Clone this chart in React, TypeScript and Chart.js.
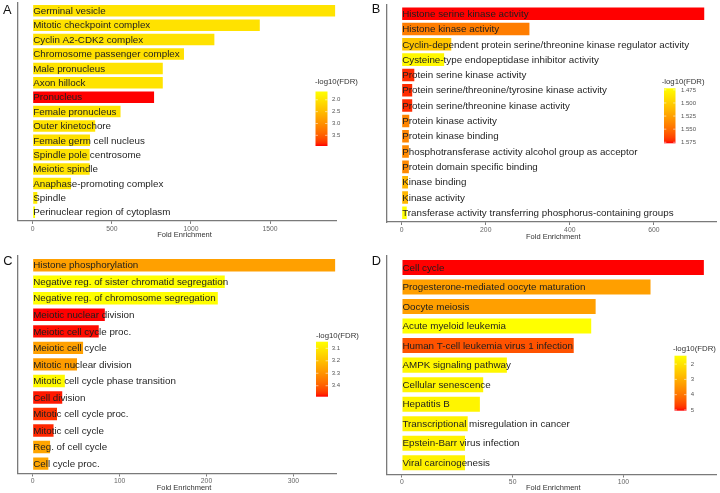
import React, { useEffect, useRef } from "react";
import { Chart, registerables } from "chart.js";

Chart.register(...registerables);

const FONT = '"Liberation Sans", Arial, Helvetica, sans-serif';

// ---------------- Panel A ----------------
const labelsA = [
  "Germinal vesicle",
  "Mitotic checkpoint complex",
  "Cyclin A2-CDK2 complex",
  "Chromosome passenger complex",
  "Male pronucleus",
  "Axon hillock",
  "Pronucleus",
  "Female pronucleus",
  "Outer kinetochore",
  "Female germ cell nucleus",
  "Spindle pole centrosome",
  "Meiotic spindle",
  "Anaphase-promoting complex",
  "Spindle",
  "Perinuclear region of cytoplasm",
];
const foldA = [1911, 1435, 1148, 956, 822, 822, 767, 555, 395, 362, 360, 360, 242, 29, 15];
const fdrA = [2.0, 2.02, 2.02, 2.04, 2.0, 2.0, 3.95, 2.0, 2.0, 2.04, 2.0, 2.0, 1.96, 1.9, 1.65];
const xTicksA = [0, 500, 1000, 1500];
const legendTicksA = [2.0, 2.5, 3.0, 3.5];
const legendTickLabelsA = ["2.0", "2.5", "3.0", "3.5"];

// ---------------- Panel B ----------------
const labelsB = [
  "Histone serine kinase activity",
  "Histone kinase activity",
  "Cyclin-dependent protein serine/threonine kinase regulator activity",
  "Cysteine-type endopeptidase inhibitor activity",
  "Protein serine kinase activity",
  "Protein serine/threonine/tyrosine kinase activity",
  "Protein serine/threonine kinase activity",
  "Protein kinase activity",
  "Protein kinase binding",
  "Phosphotransferase activity alcohol group as acceptor",
  "Protein domain specific binding",
  "Kinase binding",
  "Kinase activity",
  "Transferase activity transferring phosphorus-containing groups",
];
const foldB = [720, 304, 118, 101, 30, 25, 25, 18, 17, 17, 17, 15, 15, 12];
const fdrB = [1.577, 1.543, 1.505, 1.476, 1.572, 1.572, 1.572, 1.539, 1.539, 1.537, 1.537, 1.513, 1.513, 1.472];
const xTicksB = [0, 200, 400, 600];
const legendTicksB = [1.475, 1.5, 1.525, 1.55, 1.575];
const legendTickLabelsB = ["1.475", "1.500", "1.525", "1.550", "1.575"];

// ---------------- Panel C ----------------
const labelsC = [
  "Histone phosphorylation",
  "Negative reg. of sister chromatid segregation",
  "Negative reg. of chromosome segregation",
  "Meiotic nuclear division",
  "Meiotic cell cycle proc.",
  "Meiotic cell cycle",
  "Mitotic nuclear division",
  "Mitotic cell cycle phase transition",
  "Cell division",
  "Mitotic cell cycle proc.",
  "Mitotic cell cycle",
  "Reg. of cell cycle",
  "Cell cycle proc.",
];
const foldC = [348, 221, 213, 83, 76, 58, 51, 37, 34, 28, 24, 20, 18];
const fdrC = [3.27, 3.047, 3.05, 3.488, 3.485, 3.27, 3.28, 3.06, 3.48, 3.46, 3.47, 3.26, 3.26];
const xTicksC = [0, 100, 200, 300];
const legendTicksC = [3.1, 3.2, 3.3, 3.4];
const legendTickLabelsC = ["3.1", "3.2", "3.3", "3.4"];

// ---------------- Panel D ----------------
const labelsD = [
  "Cell cycle",
  "Progesterone-mediated oocyte maturation",
  "Oocyte meiosis",
  "Acute myeloid leukemia",
  "Human T-cell leukemia virus 1 infection",
  "AMPK signaling pathway",
  "Cellular senescence",
  "Hepatitis B",
  "Transcriptional misregulation in cancer",
  "Epstein-Barr virus infection",
  "Viral carcinogenesis",
];
const foldD = [136.4, 112.3, 87.5, 85.5, 77.6, 47.4, 36.7, 35.2, 29.7, 28.5, 28.5];
const fdrD = [5.05, 3.3, 3.3, 1.45, 4.5, 1.6, 1.65, 1.65, 1.7, 1.7, 1.7];
const xTicksD = [0, 50, 100];
const legendTicksD = [2, 3, 4, 5];
const legendTickLabelsD = ["2", "3", "4", "5"];

// ---------------- colour scale (yellow -> red, Lab interpolation) ----------------
function toLin(c: number) {
  c /= 255;
  return c <= 0.04045 ? c / 12.92 : Math.pow((c + 0.055) / 1.055, 2.4);
}
function fromLin(c: number) {
  const v = c <= 0.0031308 ? 12.92 * c : 1.055 * Math.pow(c, 1 / 2.4) - 0.055;
  return Math.round(Math.max(0, Math.min(1, v)) * 255);
}
const XN = 0.95047, YN = 1.0, ZN = 1.08883;
function rgbToLab(rgb: number[]) {
  const r = toLin(rgb[0]), g = toLin(rgb[1]), b = toLin(rgb[2]);
  const X = 0.4124 * r + 0.3576 * g + 0.1805 * b;
  const Y = 0.2126 * r + 0.7152 * g + 0.0722 * b;
  const Z = 0.0193 * r + 0.1192 * g + 0.9505 * b;
  const f = (t: number) => (t > 0.008856 ? Math.cbrt(t) : 7.787 * t + 16 / 116);
  const fx = f(X / XN), fy = f(Y / YN), fz = f(Z / ZN);
  return [116 * fy - 16, 500 * (fx - fy), 200 * (fy - fz)];
}
function labToRgb(lab: number[]) {
  const fy = (lab[0] + 16) / 116;
  const fx = fy + lab[1] / 500;
  const fz = fy - lab[2] / 200;
  const fi = (t: number) => (t * t * t > 0.008856 ? t * t * t : (t - 16 / 116) / 7.787);
  const X = XN * fi(fx), Y = YN * fi(fy), Z = ZN * fi(fz);
  const r = 3.2406 * X - 1.5372 * Y - 0.4986 * Z;
  const g = -0.9689 * X + 1.8758 * Y + 0.0415 * Z;
  const b = 0.0557 * X - 0.204 * Y + 1.057 * Z;
  return [fromLin(r), fromLin(g), fromLin(b)];
}
const LAB_LOW = rgbToLab([255, 255, 0]);
const LAB_HIGH = rgbToLab([255, 0, 0]);
function scaleColor(t: number) {
  const u = Math.max(0, Math.min(1, t));
  const lab = [0, 1, 2].map((k) => LAB_LOW[k] + (LAB_HIGH[k] - LAB_LOW[k]) * u);
  const c = labToRgb(lab);
  return `rgb(${c[0]},${c[1]},${c[2]})`;
}

// ---------------- panel layout ----------------
type PanelDef = {
  letter: string;
  labels: string[];
  values: number[];
  fdr: number[];
  xTicks: number[];
  legTicks: number[];
  legTickLabels: string[];
  left: number; top: number; w: number; h: number;
  cl: number; cr: number; ct: number; cb: number;
  xmin: number; xmax: number;
  barPct: number;
  titleX: number; titleY: number;
  legX: number; legTitleY: number; barX: number; barY: number; barW: number; barH: number; legLabelX: number;
  letterX: number; letterY: number;
};

const panels: PanelDef[] = [
  {
    letter: "A", labels: labelsA, values: foldA, fdr: fdrA, xTicks: xTicksA,
    legTicks: legendTicksA, legTickLabels: legendTickLabelsA,
    left: 0, top: 0, w: 360, h: 250,
    cl: 17.5, cr: 336.7, ct: 2.2, cb: 220.9, xmin: -96, xmax: 1921, barPct: 0.8,
    titleX: 184.5, titleY: 235.3,
    legX: 315, legTitleY: 82.3, barX: 315.5, barY: 91.5, barW: 12, barH: 54.5, legLabelX: 332,
    letterX: 3, letterY: 13.5,
  },
  {
    letter: "B", labels: labelsB, values: foldB, fdr: fdrB, xTicks: xTicksB,
    legTicks: legendTicksB, legTickLabels: legendTickLabelsB,
    left: 360, top: 0, w: 360, h: 250,
    cl: 26.7, cr: 356, ct: 4.5, cb: 222, xmin: -35.7, xmax: 748, barPct: 0.82,
    titleX: 193.3, titleY: 237.3,
    legX: 301.7, legTitleY: 81.7, barX: 304, barY: 88.3, barW: 11.5, barH: 55, legLabelX: 321,
    letterX: 11.7, letterY: 12.9,
  },
  {
    letter: "C", labels: labelsC, values: foldC, fdr: fdrC, xTicks: xTicksC,
    legTicks: legendTicksC, legTickLabels: legendTickLabelsC,
    left: 0, top: 250, w: 360, h: 243,
    cl: 17.3, cr: 336.7, ct: 5.3, cb: 223.5, xmin: -17.7, xmax: 349.8, barPct: 0.75,
    titleX: 184, titleY: 238,
    legX: 316, legTitleY: 86, barX: 316, barY: 91.7, barW: 12, barH: 55, legLabelX: 331.7,
    letterX: 3.3, letterY: 15,
  },
  {
    letter: "D", labels: labelsD, values: foldD, fdr: fdrD, xTicks: xTicksD,
    legTicks: legendTicksD, legTickLabels: legendTickLabelsD,
    left: 360, top: 250, w: 360, h: 243,
    cl: 26.7, cr: 356.7, ct: 5.75, cb: 224.5, xmin: -6.9, xmax: 142.2, barPct: 0.77,
    titleX: 193.3, titleY: 238,
    legX: 313, legTitleY: 99.3, barX: 314.5, barY: 105.7, barW: 12, barH: 55, legLabelX: 330.7,
    letterX: 11.7, letterY: 15,
  },
];

function makeDecor(p: PanelDef, lo: number, hi: number) {
  return {
    id: "decor" + p.letter,
    afterDatasetsDraw(chart: any) {
      const ctx = chart.ctx as CanvasRenderingContext2D;
      const meta = chart.getDatasetMeta(0);
      const x0 = chart.scales.x.getPixelForValue(0);
      ctx.save();
      ctx.font = `9.8px ${FONT}`;
      ctx.fillStyle = "#1e1e1e";
      ctx.textAlign = "left";
      ctx.textBaseline = "middle";
      meta.data.forEach((el: any, i: number) => {
        ctx.fillText(p.labels[i], x0 + 0.5, el.y + 0.5);
      });
      ctx.restore();
    },
    afterDraw(chart: any) {
      const ctx = chart.ctx as CanvasRenderingContext2D;
      ctx.save();
      // x title
      ctx.font = `7.5px ${FONT}`;
      ctx.fillStyle = "#333";
      ctx.textAlign = "center";
      ctx.textBaseline = "middle";
      ctx.fillText("Fold Enrichment", p.titleX, p.titleY);
      // legend title
      ctx.font = `7.8px ${FONT}`;
      ctx.textAlign = "left";
      ctx.fillText("-log10(FDR)", p.legX, p.legTitleY);
      // colour bar
      const grad = ctx.createLinearGradient(0, p.barY, 0, p.barY + p.barH);
      for (let k = 0; k <= 20; k++) grad.addColorStop(k / 20, scaleColor(k / 20));
      ctx.fillStyle = grad;
      ctx.fillRect(p.barX, p.barY, p.barW, p.barH);
      // legend ticks
      ctx.font = `6px ${FONT}`;
      ctx.fillStyle = "#555";
      ctx.strokeStyle = "rgba(255,255,255,0.9)";
      ctx.lineWidth = 0.6;
      p.legTicks.forEach((v, i) => {
        const y = p.barY + ((v - lo) / (hi - lo)) * p.barH;
        ctx.beginPath();
        ctx.moveTo(p.barX, y);
        ctx.lineTo(p.barX + p.barW * 0.2, y);
        ctx.moveTo(p.barX + p.barW * 0.8, y);
        ctx.lineTo(p.barX + p.barW, y);
        ctx.stroke();
        ctx.fillText(p.legTickLabels[i], p.legLabelX, y);
      });
      // panel letter
      ctx.font = `12.8px ${FONT}`;
      ctx.fillStyle = "#111";
      ctx.textBaseline = "alphabetic";
      ctx.fillText(p.letter, p.letterX, p.letterY);
      ctx.restore();
    },
  };
}

function Panel({ p }: { p: PanelDef }) {
  const ref = useRef<HTMLCanvasElement>(null);
  useEffect(() => {
    if (!ref.current) return;
    const lo = Math.min(...p.fdr);
    const hi = Math.max(...p.fdr);
    const colors = p.fdr.map((f) => scaleColor((f - lo) / (hi - lo)));
    const n = p.labels.length;
    const chart = new Chart(ref.current, {
      type: "bar",
      data: {
        datasets: [
          {
            data: p.values.map((v, i) => ({ x: v, y: i })) as any,
            backgroundColor: colors,
            borderWidth: 0,
            barPercentage: p.barPct,
            categoryPercentage: 1,
          },
        ],
      },
      options: {
        indexAxis: "y",
        animation: false,
        responsive: false,
        maintainAspectRatio: false,
        layout: { padding: { top: p.ct, right: p.w - p.cr, left: 0, bottom: 0 } },
        plugins: { legend: { display: false }, tooltip: { enabled: false } },
        scales: {
          x: {
            type: "linear",
            position: "bottom",
            offset: false,
            min: p.xmin,
            max: p.xmax,
            afterBuildTicks: (ax: any) => {
              ax.ticks = p.xTicks.map((v) => ({ value: v }));
            },
            afterFit: (ax: any) => {
              ax.height = p.h - p.cb;
            },
            grid: {
              display: true,
              offset: false,
              drawOnChartArea: false,
              drawTicks: true,
              tickLength: 3,
              color: "#7a7a7a",
              lineWidth: 1,
            },
            border: { display: true, color: "#7a7a7a", width: 1.3 },
            ticks: {
              font: { family: FONT, size: 6.8 },
              color: "#666",
              padding: 1,
              maxRotation: 0,
              autoSkip: false,
              callback: (v: any) => String(v),
            },
          },
          y: {
            type: "linear",
            position: "left",
            reverse: true,
            offset: false,
            min: -0.6,
            max: n - 0.4,
            afterBuildTicks: (ax: any) => {
              ax.ticks = p.labels.map((_, i) => ({ value: i }));
            },
            afterFit: (ax: any) => {
              ax.width = p.cl;
            },
            ticks: { display: false },
            grid: { display: false, offset: false },
            border: { display: true, color: "#7a7a7a", width: 1.3 },
          },
        },
      } as any,
      plugins: [makeDecor(p, lo, hi)],
    });
    return () => chart.destroy();
  }, [p]);
  return (
    <canvas
      ref={ref}
      width={p.w}
      height={p.h}
      style={{ position: "absolute", left: p.left, top: p.top, width: p.w, height: p.h }}
    />
  );
}

export default function App() {
  return (
    <div
      style={{
        position: "absolute",
        left: 0,
        top: 0,
        width: 720,
        height: 493,
        background: "#ffffff",
        overflow: "hidden",
      }}
    >
      {panels.map((p) => (
        <Panel key={p.letter} p={p} />
      ))}
    </div>
  );
}
